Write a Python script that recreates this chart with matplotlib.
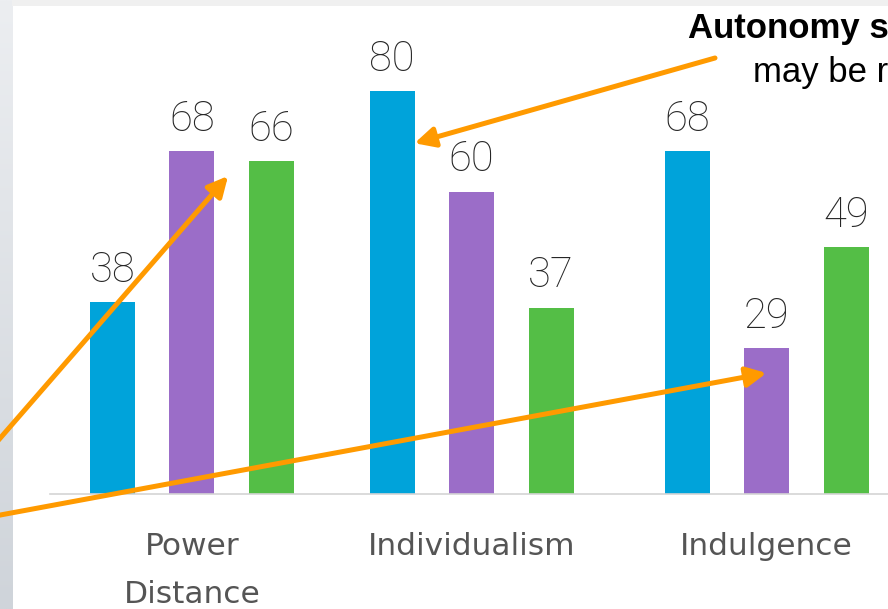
import numpy as np
import matplotlib.pyplot as plt
from matplotlib.patches import Rectangle
from matplotlib.colors import LinearSegmentedColormap

# Hofstede-style dimension scores, three series per dimension
categories = ['Power\nDistance', 'Individualism', 'Indulgence']
series_a = [38, 80, 68]
series_b = [68, 60, 29]
series_c = [66, 37, 49]

colors = ['#00A3DA', '#9B6DC8', '#54BE46']
orange = '#FF9A00'

W, H = 888, 609
fig = plt.figure(figsize=(W / 100, H / 100), dpi=100)

# slide background: light band on top, grey gradient strip on the left
bg = fig.add_axes([0, 0, 1, 1])
bg.set_xlim(0, 1)
bg.set_ylim(0, 1)
bg.axis('off')
grad = np.linspace(0, 1, 256).reshape(-1, 1)
bg.imshow(grad, extent=[0, 12 / W, 0, 1], aspect='auto', origin='upper',
          cmap=LinearSegmentedColormap.from_list('strip', ['#eceef1', '#cfd4da']))
bg.add_patch(Rectangle((12 / W, 1 - 6 / H), 1, 6 / H, color='#f0f0f0', lw=0))

# plot area: left 50px, baseline 494px from top
ax = fig.add_axes([50 / W, (H - 494) / H, (W - 50) / W, 494 / H])
ax.patch.set_alpha(0)
ax.set_xlim(0, (W - 50) / 79.5)
ax.set_ylim(0, 494 / 5.04)

group_x = np.array([1.786, 5.302, 9.013])
offsets = [-1, 0, 1]
bar_w = 0.566

for vals, off, col in zip([series_a, series_b, series_c], offsets, colors):
    xs = group_x + off
    ax.bar(xs, vals, width=bar_w, color=col, zorder=2)
    for x, v in zip(xs, vals):
        ax.annotate(str(v), (x, v), xytext=(0, 14.5), textcoords='offset points',
                    ha='center', va='baseline', fontsize=30, family='Roboto',
                    fontweight='light', color='#262626')

for s in ['top', 'right', 'left']:
    ax.spines[s].set_visible(False)
ax.spines['bottom'].set_color('#d4d4d4')
ax.spines['bottom'].set_linewidth(1.2)
ax.set_yticks([])
ax.set_xticks(group_x)
ax.set_xticklabels(categories, fontsize=22.5, color='#555555', family='DejaVu Sans', linespacing=1.82)
ax.tick_params(axis='x', length=0, pad=27.5)

# callout text, running off the right edge
fig.text(688 / W, 1 - 38 / H, 'Autonomy s', fontsize=25, fontweight='bold',
         family='Liberation Sans', color='black', va='baseline')
fig.text(753 / W, 1 - 82 / H, 'may be r', fontsize=25,
         family='Liberation Sans', color='black', va='baseline')

arrow = dict(arrowstyle='-|>,head_length=0.6,head_width=0.3', mutation_scale=20,
             lw=3.6, color=orange, shrinkA=0, shrinkB=0)
# tips point at the bars, tails come from the callout / off the left edge
ax.annotate('', xy=(group_x[1] - 1 + bar_w / 2, 69.6), xycoords='data',
            xytext=(715 / W, 1 - 58 / H), textcoords='figure fraction',
            arrowprops=arrow, zorder=5)
ax.annotate('', xy=(2.24, 63.1), xycoords='data',
            xytext=(-0.03, 1 - 469 / H), textcoords='figure fraction',
            arrowprops=arrow, zorder=5)
ax.annotate('', xy=(group_x[2], 24.0), xycoords='data',
            xytext=(-0.03, 1 - 520 / H), textcoords='figure fraction',
            arrowprops=arrow, zorder=5)

fig.savefig('out.png', dpi=100)
